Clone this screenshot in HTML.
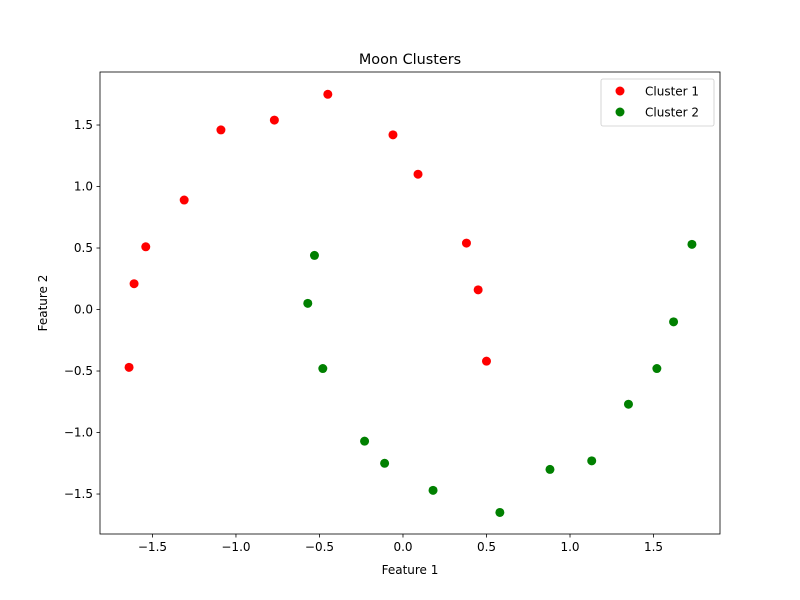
<!DOCTYPE html>
<html><head><meta charset="utf-8"><style>
body{margin:0;background:#fff}
svg{display:block;font-family:"DejaVu Sans","Liberation Sans",sans-serif}
</style></head><body>
<svg id="chart" width="800" height="600"></svg>
<script>
const xTicks=[-1.5,-1.0,-0.5,0.0,0.5,1.0,1.5];
const yTicks=[-1.5,-1.0,-0.5,0.0,0.5,1.0,1.5];
const c1x=[-1.64,-1.61,-1.54,-1.31,-1.09,-0.77,-0.45,-0.06,0.09,0.38,0.45,0.50];
const c1y=[-0.47,0.21,0.51,0.89,1.46,1.54,1.75,1.42,1.10,0.54,0.16,-0.42];
const c2x=[-0.53,-0.57,-0.48,-0.23,-0.11,0.18,0.58,0.88,1.13,1.35,1.52,1.62,1.73];
const c2y=[0.44,0.05,-0.48,-1.07,-1.25,-1.47,-1.65,-1.30,-1.23,-0.77,-0.48,-0.10,0.53];
const X0=100,X1=720,Y0=72,Y1=534;
const xmin=-1.814,xmax=1.898,ymin=-1.825,ymax=1.931;
const sx=v=>X0+(v-xmin)/(xmax-xmin)*(X1-X0);
const sy=v=>Y1-(v-ymin)/(ymax-ymin)*(Y1-Y0);
const svg=document.getElementById('chart');
const NS='http://www.w3.org/2000/svg';
function mk(t,a,txt){const e=document.createElementNS(NS,t);for(const k in a)e.setAttribute(k,a[k]);if(txt!==undefined)e.textContent=txt;svg.appendChild(e);return e;}
const fmt=v=>(v<0?'\u2212':'')+Math.abs(v).toFixed(1);
xTicks.forEach(v=>{
 const l=mk('line',{x1:sx(v),x2:sx(v),y1:Y1,y2:Y1+3.5,stroke:'#000','stroke-width':0.8});
 
 
 const t=mk('text',{x:sx(v),y:Y1+17,'text-anchor':'middle','font-size':12},fmt(v));
 
 
});
yTicks.forEach(v=>{
 const l=mk('line',{x1:X0-3.5,x2:X0,y1:sy(v),y2:sy(v),stroke:'#000','stroke-width':0.8});
 
 
 const t=mk('text',{x:X0-7,y:sy(v)+4,'text-anchor':'end','font-size':12},fmt(v));
 
 
});
c1x.forEach((v,i)=>{
 const c=mk('circle',{cx:sx(v),cy:sy(c1y[i]),r:4.5,fill:'#ff0000'});
 
 
});
c2x.forEach((v,i)=>{
 const c=mk('circle',{cx:sx(v),cy:sy(c2y[i]),r:4.5,fill:'#008000'});
 
 
});
const fr=mk('rect',{x:X0,y:Y0,width:X1-X0,height:Y1-Y0,fill:'none',stroke:'#000','stroke-width':0.8});


const ti=mk('text',{x:410,y:64,'text-anchor':'middle','font-size':14.4},'Moon Clusters');


const xl=mk('text',{x:410,y:574,'text-anchor':'middle','font-size':12},'Feature 1');


const yl=mk('text',{x:47,y:303,'text-anchor':'middle','font-size':12,transform:'rotate(-90 47 303)'},'Feature 2');


const lg=mk('rect',{x:601,y:79,width:113,height:47,rx:2,fill:'#fff',stroke:'#ccc','stroke-width':0.8});


[['Cluster 1','#ff0000',91],['Cluster 2','#008000',112]].forEach(d=>{
 const c=mk('circle',{cx:620,cy:d[2],r:4.5,fill:d[1]});
 
 
 const t=mk('text',{x:645,y:d[2]+4.5,'font-size':12},d[0]);
 
 
});
</script>
</body></html>
